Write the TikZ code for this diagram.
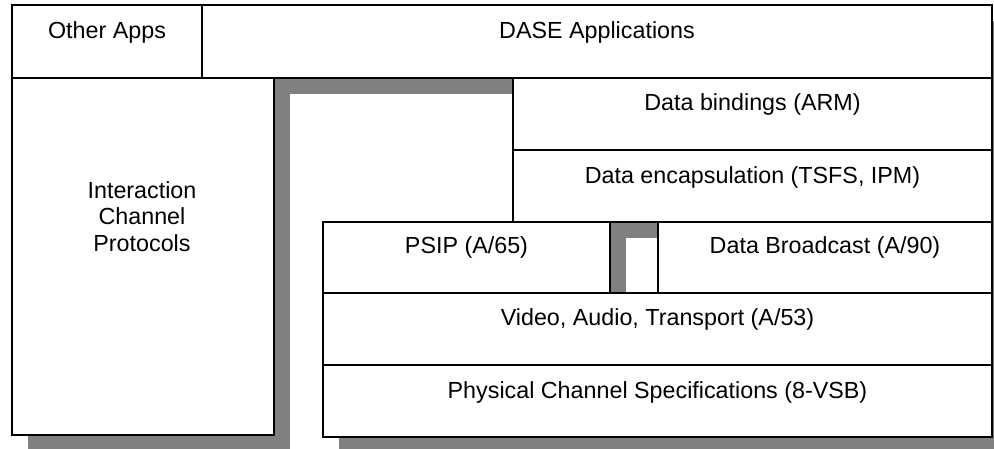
\documentclass[tikz,border=0pt]{standalone}
\usepackage{fontspec}
\setmainfont{Liberation Sans}
\pgfdeclarelayer{background}
\pgfdeclarelayer{canvas}
\pgfsetlayers{canvas,background,main}
\begin{document}
\begin{tikzpicture}[x=1pt,y=-1pt,
  layerbox/.style={draw=black,fill=white,line width=1.6pt,inner sep=0pt,outer sep=0pt,anchor=north west},
  lbl/.style={font=\fontsize{23.3}{27}\selectfont,anchor=base,inner sep=0pt,align=center},
  shade/.style={fill=gray}]
\useasboundingbox (0,0) rectangle (994,449);
\clip (0,0) rectangle (994,449);
\begin{pgfonlayer}{canvas}
\fill[white] (0,0) rectangle (994,449);
\end{pgfonlayer}
% boxes
\node[layerbox,minimum width=190,minimum height=73] (other) at (12,5) {};
\node[layerbox,minimum width=790,minimum height=73] (dase) at (202,5) {};
\node[layerbox,minimum width=262,minimum height=357] (inter) at (12,78) {};
\node[layerbox,minimum width=479,minimum height=72] (bind) at (513,78) {};
\node[layerbox,minimum width=479,minimum height=72] (encap) at (513,150) {};
\node[layerbox,minimum width=287,minimum height=71] (psip) at (323,222) {};
\node[layerbox,minimum width=334,minimum height=71] (bcast) at (658,222) {};
\node[layerbox,minimum width=669,minimum height=72] (video) at (323,293) {};
\node[layerbox,minimum width=669,minimum height=72] (phys) at (323,365) {};
% shadows
\begin{pgfonlayer}{background}
\foreach \b in {other,dase,inter,bind,encap,psip,bcast,video,phys}{
  \fill[shade] ([shift={(16pt,-16pt)}]\b.north west) rectangle ([shift={(16pt,-16pt)}]\b.south east);
}
\end{pgfonlayer}
% labels
\node[lbl] (tother) at ([yshift=-34pt]other.north) {Other Apps};
\node[lbl] (tdase) at ([yshift=-34pt]dase.north) {DASE Applications};
\node[lbl] (tbind) at ([yshift=-33pt]bind.north) {Data bindings (ARM)};
\node[lbl] (tencap) at ([yshift=-34pt]encap.north) {Data encapsulation (TSFS, IPM)};
\node[lbl] (tinter) at (142,252) {Interaction\\Channel\\Protocols};
\node[lbl] (tpsip) at ([yshift=-32pt]psip.north) {PSIP (A/65)};
\node[lbl] (tbcast) at ([yshift=-32pt]bcast.north) {Data Broadcast (A/90)};
\node[lbl] (tvideo) at ([yshift=-33pt]video.north) {Video, Audio, Transport (A/53)};
\node[lbl] (tphys) at ([yshift=-33pt]phys.north) {Physical Channel Specifications (8-VSB)};
\end{tikzpicture}
\end{document}
